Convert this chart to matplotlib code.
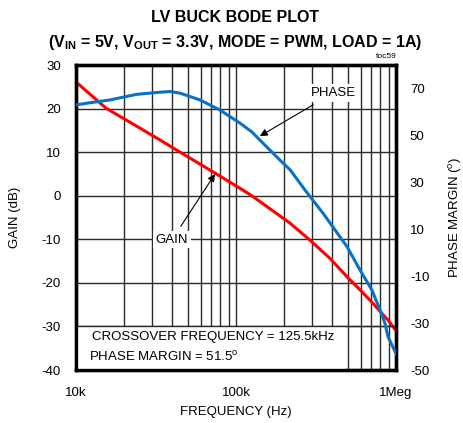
import matplotlib
matplotlib.use("Agg")
import matplotlib.pyplot as plt
from matplotlib.patches import Rectangle
from matplotlib.ticker import FixedLocator, NullFormatter

plt.rcParams['font.family'] = ['Liberation Sans', 'DejaVu Sans']
plt.rcParams['mathtext.fontset'] = 'custom'
plt.rcParams['mathtext.rm'] = 'Liberation Sans'
plt.rcParams['mathtext.bf'] = 'Liberation Sans:bold'
plt.rcParams['axes.unicode_minus'] = False

# loop gain (dB) vs frequency (kHz)
gain_freq_khz = [10, 15.4, 33.5, 44.7, 73.9, 106, 125.5, 217.6, 290, 387, 494,
                 596, 718, 853, 891, 1000]
gain_db = [26.1, 20.1, 12.8, 10.0, 5.2, 1.7, 0.0, -6.3, -10.2, -14.4, -18.6,
           -21.6, -24.7, -27.8, -28.5, -31.0]

# phase margin (deg) vs frequency (kHz)
phase_freq_khz = [10, 12.2, 16.3, 24, 33.5, 38.7, 44.7, 59.6, 79.4, 106, 125.5,
                  141, 188, 218, 270, 350, 494, 596, 707, 794, 853, 891, 1000]
phase_deg = [63.0, 63.9, 65.1, 67.5, 68.4, 68.7, 68.0, 65.1, 60.8, 55.2, 51.5,
             48.0, 39.5, 35.3, 26.7, 16.8, 2.6, -7.4, -15.9, -24.4, -30.1, -35.8, -43.0]

gain_ticks = [30, 20, 10, 0, -10, -20, -30, -40]
phase_ticks = [70, 50, 30, 10, -10, -30, -50]
freq_ticks = [1e4, 1e5, 1e6]
freq_labels = ['10k', '100k', '1Meg']

fig = plt.figure(figsize=(4.64, 4.23), dpi=100)
ax = fig.add_axes([76 / 464, 53 / 423, 320 / 464, 305 / 423])
axp = ax.twinx()

gf = [f * 1e3 for f in gain_freq_khz]
pf = [f * 1e3 for f in phase_freq_khz]

ax.set_xscale('log')
ax.set_xlim(1e4, 1e6)
ax.set_ylim(-40, 30)
axp.set_ylim(-50, 80)

# grid: every decade subdivision, gain steps of 10 dB
minor = [m * 10 ** d for d in (4, 5) for m in range(2, 10)]
ax.xaxis.set_major_locator(FixedLocator(freq_ticks))
ax.xaxis.set_minor_locator(FixedLocator(minor))
ax.xaxis.set_minor_formatter(NullFormatter())
ax.set_xticks(freq_ticks)
ax.set_xticklabels(freq_labels)
ax.set_yticks(gain_ticks)
axp.set_yticks(phase_ticks)
ax.grid(True, which='both', axis='x', color='#2a2a2a', lw=1.0)
ax.grid(True, which='major', axis='y', color='#2a2a2a', lw=1.0)
ax.tick_params(axis='y', which='both', length=0, labelsize=9.5, pad=11)
ax.tick_params(axis='x', which='both', length=0, labelsize=9.5, pad=12)
axp.tick_params(length=0, labelsize=9.5, pad=10)

for a in (ax, axp):
    for s in a.spines.values():
        s.set_linewidth(2.4)
        s.set_color('black')

ax.plot(gf, gain_db, color='#ff0000', lw=2.2, zorder=4)
axp.plot(pf, phase_deg, color='#0a72c4', lw=2.2, zorder=4)

# white panel for the summary text, cut out of the grid
axp.add_patch(Rectangle((0, 0), 0.84, 10 / 70, transform=ax.transAxes,
                        facecolor='white', edgecolor='none', zorder=1))
axp.plot([0, 1], [10 / 70, 10 / 70], transform=ax.transAxes,
         color='#2a2a2a', lw=1.0, zorder=1.1)
ax_txt = dict(fontsize=9.5, va='center', ha='left', zorder=5)
axp.text(12.6e3, -32.4, 'CROSSOVER FREQUENCY = 125.5kHz',
         transform=ax.transData, **ax_txt)
axp.text(12.05e3, -37.0, 'PHASE MARGIN = 51.5$\\mathregular{^o}$',
         transform=ax.transData, **ax_txt)

box = dict(facecolor='white', edgecolor='none', pad=2)
ax.annotate('GAIN', xy=(7.4e4, 5.0), xytext=(3.98e4, -10.1),
            fontsize=9.5, ha='center', va='center', bbox=box, zorder=6,
            arrowprops=dict(arrowstyle='-|>', color='black', lw=0.8,
                            shrinkA=4, shrinkB=0, mutation_scale=11))
axp.annotate('PHASE', xy=(1.41e5, 49.7), xytext=(4.04e5, 68),
             fontsize=9.5, ha='center', va='center', bbox=box, zorder=6,
             arrowprops=dict(arrowstyle='-|>', color='black', lw=0.8,
                             shrinkA=4, shrinkB=0, mutation_scale=11))

ax.set_xlabel('FREQUENCY (Hz)', fontsize=9.5, labelpad=5)
ax.set_ylabel('GAIN (dB)', fontsize=9.5, labelpad=15)
axp.set_ylabel('PHASE MARGIN ($\\mathregular{^o}$)', fontsize=9.5, labelpad=13)

fig.text(235 / 464, 1 - 17 / 423, 'LV BUCK BODE PLOT', fontsize=11.5,
         fontweight='bold', ha='center', va='center')
fig.text(235 / 464, 1 - 42 / 423,
         '(V$_{\\mathbf{IN}}$ = 5V, V$_{\\mathbf{OUT}}$ = 3.3V, MODE = PWM, LOAD = 1A)',
         fontsize=11.5, fontweight='bold', ha='center', va='center')
fig.text(397 / 464, 1 - 57 / 423, 'toc59', fontsize=6, ha='right', va='center')

fig.savefig('out.png', dpi=100)
